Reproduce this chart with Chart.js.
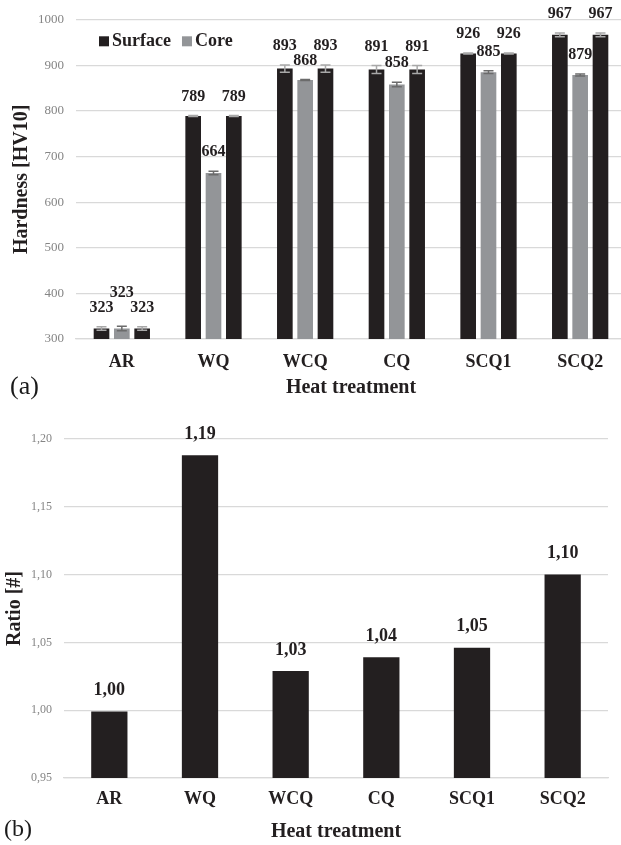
<!DOCTYPE html>
<html>
<head>
<meta charset="utf-8">
<script src="https://cdn.jsdelivr.net/npm/chart.js@4.4.1/dist/chart.umd.min.js"></script>
<style>
  html, body { margin: 0; padding: 0; background: #fff; overflow: hidden; width: 621px; height: 845px; }
  #wrap { position: relative; width: 621px; height: 845px; overflow: hidden; }
  canvas { position: absolute; left: 0; }
  #hardness { top: 0; }
  #ratio { top: 400px; }
  .panel { position: absolute; font-family: "Liberation Serif", serif; color: #1a1a1a; line-height: 1; }
</style>
</head>
<body>
<div id="wrap">
  <canvas id="hardness" width="626" height="400"></canvas>
  <canvas id="ratio" width="621" height="445"></canvas>
  <div class="panel" style="left:10px; top:373px; font-size:26px;">(a)</div>
  <div class="panel" style="left:4px; top:816px; font-size:24px;">(b)</div>
</div>
<script>
// Heat treatment routes
const categories = ['AR', 'WQ', 'WCQ', 'CQ', 'SCQ1', 'SCQ2'];

// Vickers hardness HV10, surface and core, with their scatter
const surfaceHardness = [323, 789, 893, 891, 926, 967];
const coreHardness    = [323, 664, 868, 858, 885, 879];
const surfaceError    = [4, 1, 8, 9, 1, 4];
const coreError       = [5, 4, 1, 5, 3, 2];

// Surface-to-core hardness ratio
const hardnessRatio = [0.999, 1.188, 1.029, 1.039, 1.046, 1.100];

// Axis ticks
const hardnessTicks = [300, 400, 500, 600, 700, 800, 900, 1000];
const ratioTicks    = [0.95, 1.00, 1.05, 1.10, 1.15, 1.20];

const DARK = '#231f20';
const GREY = '#939598';
const GRID = '#d9d9d9';
const TICK = '#858585';
const SERIF = '"Liberation Serif", "Times New Roman", serif';

const fmtRatio = v => Number(v).toFixed(2).replace('.', ',');

// Vertical error bars with caps, drawn through the value scale
const errorBars = {
  id: 'errorBars',
  afterDatasetsDraw(chart) {
    const { ctx, scales: { y } } = chart;
    chart.data.datasets.forEach((ds, i) => {
      if (!ds.errors) return;
      chart.getDatasetMeta(i).data.forEach((bar, j) => {
        const v = ds.data[j], e = ds.errors[j];
        const yTop = y.getPixelForValue(v + e);
        const yBot = y.getPixelForValue(v - e);
        ctx.save();
        ctx.strokeStyle = ds.errorColor;
        ctx.lineWidth = 1.5;
        ctx.beginPath();
        ctx.moveTo(bar.x, yTop); ctx.lineTo(bar.x, yBot);
        ctx.moveTo(bar.x - 5, yTop); ctx.lineTo(bar.x + 5, yTop);
        ctx.moveTo(bar.x - 5, yBot); ctx.lineTo(bar.x + 5, yBot);
        ctx.stroke();
        ctx.restore();
      });
    });
  }
};

// Value labels above each bar; the core label steps up when it would collide
const hardnessLabels = {
  id: 'hardnessLabels',
  afterDatasetsDraw(chart) {
    const { ctx, scales: { y } } = chart;
    ctx.save();
    ctx.font = 'bold 16px ' + SERIF;
    ctx.fillStyle = DARK;
    ctx.textAlign = 'center';
    ctx.textBaseline = 'middle';
    categories.forEach((c, j) => {
      const items = chart.data.datasets.map((ds, i) => {
        const bar = chart.getDatasetMeta(i).data[j];
        const top = y.getPixelForValue(ds.data[j] + (ds.errors ? ds.errors[j] : 0));
        return { x: bar.x, y: top - 19, text: String(ds.data[j]) };
      });
      const mid = items[1];
      const sides = [items[0], items[2]];
      if (sides.some(s => Math.abs(s.y - mid.y) < 11)) {
        mid.y = Math.min(...sides.map(s => s.y)) - 15;
      }
      items.forEach(it => ctx.fillText(it.text, it.x, it.y));
    });
    ctx.restore();
  }
};

// Legend placed inside the plot, top left
const insetLegend = {
  id: 'insetLegend',
  afterDraw(chart) {
    const { ctx, chartArea } = chart;
    let x = chartArea.left + 23;
    const yc = chartArea.top + 21.5;
    ctx.save();
    ctx.font = 'bold 18px ' + SERIF;
    ctx.textBaseline = 'middle';
    ctx.textAlign = 'left';
    chart.data.datasets.slice(0, 2).forEach(ds => {
      ctx.fillStyle = ds.backgroundColor;
      ctx.fillRect(x, yc - 5, 10, 10);
      ctx.fillStyle = DARK;
      ctx.fillText(ds.label, x + 13, yc);
      x += 13 + ctx.measureText(ds.label).width + 11;
    });
    ctx.restore();
  }
};

const ratioLabels = {
  id: 'ratioLabels',
  afterDatasetsDraw(chart) {
    const { ctx, scales: { y } } = chart;
    ctx.save();
    ctx.font = 'bold 18px ' + SERIF;
    ctx.fillStyle = DARK;
    ctx.textAlign = 'center';
    ctx.textBaseline = 'middle';
    const ds = chart.data.datasets[0];
    chart.getDatasetMeta(0).data.forEach((bar, j) => {
      ctx.fillText(fmtRatio(ds.data[j]), bar.x, y.getPixelForValue(ds.data[j]) - 21);
    });
    ctx.restore();
  }
};

const tickFrom = list => scale => { scale.ticks = list.map(v => ({ value: v })); };

new Chart(document.getElementById('hardness'), {
  type: 'bar',
  data: {
    labels: categories,
    datasets: [
      { label: 'Surface', data: surfaceHardness, errors: surfaceError, backgroundColor: DARK, errorColor: '#a8a8a8' },
      { label: 'Core',    data: coreHardness,    errors: coreError,    backgroundColor: GREY, errorColor: '#6b6b6b' },
      { label: 'Surface', data: surfaceHardness, errors: surfaceError, backgroundColor: DARK, errorColor: '#a8a8a8' }
    ]
  },
  options: {
    responsive: false,
    animation: false,
    datasets: { bar: { categoryPercentage: 0.665, barPercentage: 0.77 } },
    layout: { padding: { top: 17, right: 0, bottom: 0, left: 0 } },
    plugins: { legend: { display: false }, tooltip: { enabled: false } },
    scales: {
      x: {
        grid: { display: false, drawTicks: false },
        border: { display: true, color: GRID, width: 1.3 },
        ticks: { color: DARK, padding: 13, font: { family: SERIF, size: 18, weight: 'bold' } },
        title: { display: true, text: 'Heat treatment', color: DARK, padding: { top: 0, bottom: 0 },
                 font: { family: SERIF, size: 20, weight: 'bold' } },
        afterFit: s => { s.height = 61; }
      },
      y: {
        min: 300, max: 1000,
        afterBuildTicks: tickFrom(hardnessTicks),
        grid: { color: GRID, lineWidth: 1.3, drawTicks: false },
        border: { display: false },
        ticks: { color: TICK, padding: 12, font: { family: SERIF, size: 13 }, callback: v => String(v) },
        title: { display: true, text: 'Hardness [HV10]', color: DARK, padding: { top: 10, bottom: 0 },
                 font: { family: SERIF, size: 20, weight: 'bold' } },
        afterFit: s => { s.width = 76; }
      }
    }
  },
  plugins: [errorBars, hardnessLabels, insetLegend]
});

new Chart(document.getElementById('ratio'), {
  type: 'bar',
  data: {
    labels: categories,
    datasets: [{ label: 'Ratio', data: hardnessRatio, backgroundColor: DARK }]
  },
  options: {
    responsive: false,
    animation: false,
    datasets: { bar: { categoryPercentage: 0.4, barPercentage: 1 } },
    layout: { padding: { top: 39, right: 13, bottom: 0, left: 0 } },
    plugins: { legend: { display: false }, tooltip: { enabled: false } },
    scales: {
      x: {
        grid: { display: false, drawTicks: false },
        border: { display: true, color: GRID, width: 1.3 },
        ticks: { color: DARK, padding: 11, font: { family: SERIF, size: 18, weight: 'bold' } },
        title: { display: true, text: 'Heat treatment', color: DARK, padding: { top: 0, bottom: 1 },
                 font: { family: SERIF, size: 20, weight: 'bold' } },
        afterFit: s => { s.height = 67; }
      },
      y: {
        min: 0.95, max: 1.2,
        afterBuildTicks: tickFrom(ratioTicks),
        grid: { color: GRID, lineWidth: 1.3, drawTicks: false },
        border: { display: false },
        ticks: { color: TICK, padding: 12, font: { family: SERIF, size: 12 }, callback: v => fmtRatio(v) },
        title: { display: true, text: 'Ratio [#]', color: DARK, padding: { top: 3, bottom: 0 },
                 font: { family: SERIF, size: 20, weight: 'bold' } },
        afterFit: s => { s.width = 64; }
      }
    }
  },
  plugins: [ratioLabels]
});
</script>
</body>
</html>
